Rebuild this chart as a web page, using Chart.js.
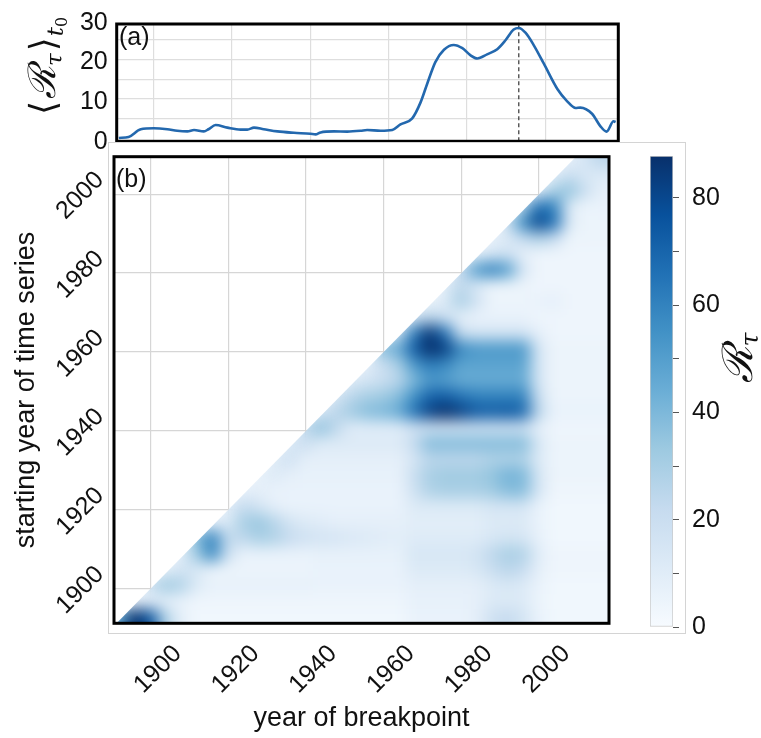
<!DOCTYPE html>
<html><head><meta charset="utf-8">
<script src="https://cdn.jsdelivr.net/npm/chart.js@4.4.1/dist/chart.umd.min.js"></script>
<style>
html,body{margin:0;padding:0;background:#fff;}
#wrap{position:relative;width:761px;height:738px;overflow:hidden;}
#wrap canvas{position:absolute;left:0;top:0;}
</style></head><body>
<div id="wrap">
<canvas id="cA" width="761" height="738"></canvas>
<canvas id="cB" width="761" height="738"></canvas>
<canvas id="cC" width="761" height="738"></canvas>
</div>
<script>
// ---------------- data ----------------
const meanYears = [1891.1,1893.6,1896.7,1900,1903.5,1906,1908.6,1910.3,1912.8,1914,1915.8,1918.8,1922.2,1923.9,1925.6,1928.1,1931.6,1935.8,1940,1941.3,1942.6,1946,1949.4,1952.8,1954.5,1957.9,1960.9,1963,1966,1968.1,1969.8,1971.9,1974.1,1976.6,1978.8,1980.9,1982.6,1985.1,1987.7,1989.8,1991.9,1993.2,1994.9,1997,1999.6,2003,2005.5,2007.7,2008.9,2011.9,2014,2015.6,2017.4,2017.9];
const meanValues = [0.2,0.45,2.4,2.65,2.4,2.0,1.85,2.2,1.85,2.4,3.45,2.8,2.3,2.3,2.8,2.4,1.85,1.5,1.25,1.1,1.6,1.85,1.8,2.0,2.2,2.0,2.2,3.6,5.15,9.1,13.8,19.3,22.4,23.6,22.8,21.0,20.2,21.25,22.55,24.8,27.5,27.9,26.7,23.6,18.9,12.6,9.5,7.75,7.85,6.3,3.2,1.8,4.4,4.2];
const peakYear = 1993.2;
const meanTicks = [0,5,10,15,20,25,30];
const gridYears = [1900,1920,1940,1960,1980,2000];
const colorbarTicks = [0,10,20,30,40,50,60,70,80];
const colorbarMax = 87.8;

// heatmap: columns = year of breakpoint, rows = starting year (bottom row first)
const breakpointYears = [1892,1896,1900,1904,1908,1912,1916,1920,1924,1928,1932,1936,1940,1944,1948,1952,1956,1960,1964,1968,1972,1976,1980,1984,1988,1992,1996,2000,2004,2008,2012,2016];
const startYears = [1893,1897,1901,1905,1909,1913,1917,1921,1925,1929,1933,1937,1941,1945,1949,1953,1957,1961,1965,1969,1973,1977,1981,1985,1989,1993,1997,2001,2005,2009];
// each row lists the values up to the last breakpoint column (right aligned)
const heatRows = [
 [50,88,75,28,8, 3,3,3,3,3,3,3, 3,3,3,3,3,3,3, 6,6,6,6,8, 18,22,16, 6, 3,3,3,3],
 [6,8,8,6, 4,4,4,4,4,4,4, 4,4,4,4,4,4,4, 7,7,7,7,8, 12,12,12, 5, 3,3,3,3],
 [20,32,28,12, 7,7,7,7,7,7,7, 6,6,6,6,6,6, 8,8,8,8,8, 12,14,12, 6, 3,3,3,3],
 [8,16,14, 5,5,5,5,5,5,5, 6,6,6,6,6,6, 12,12,12,12,14, 20,25,22, 8, 4,4,4,4],
 [10,32,58,20, 6,6,6,6,6, 7,7,7,7,7,7, 14,14,14,14,16, 24,30,28, 10, 4,4,4,4],
 [38,60,24,24,30,28,22,18,16,15,13,12,10,9, 11,11,11,11,11, 14,16,15, 7, 3,3,3,3],
 [8,12,30,34,26,16,12,10, 8,8,8,8,8, 9,9,9,9,9, 12,12,12, 6, 3,3,3,3],
 [10,22,16,8, 6,6,6,6,6,6,6,6, 12,12,12,12,12, 15,15,15, 6, 3,3,3,3],
 [8,8, 6,6,6,6,6,6,6,6,6, 18,28,30,30,30, 32,38,38, 15, 4,4,4,4],
 [8,12,8, 7,7,7,7,7,7,7, 20,30,32,32,32, 35,42,40, 15, 5,5,5,5],
 [12,18,8, 8,8,8,8,8,8, 15,25,25,25,25, 28,28,28, 12, 5,5,5,5],
 [14,20,12, 12,12,12,12,12, 22,38,38,38,38, 38,38,38, 14, 5,5,5,5],
 [24,36,24, 10,10,10,10, 18,18,18,18,18, 18,18,18, 8, 4,4,4,4],
 [15,25,32,38,40,45, 65,82,90,82,74, 72,74,70, 25, 6,6,6,6],
 [15,25,30,32,38, 55,70,72,65,60, 60,60,60, 20, 5,5,5,5],
 [12,15,20,25, 40,52,50,45,45, 45,45,45, 15, 5,5,5,5],
 [10,20,30, 52,62,58,48,48, 48,48,48, 15, 5,5,5,5],
 [38,45, 72,90,82,58,52, 52,52,52, 15, 5,5,5,5],
 [18, 60,85,64,20,15, 15,15,15, 8, 4,4,4,4],
 [15,25,18,8, 6,6,6,6, 4,4,4,4,4],
 [5,12,30,18, 5,5,5, 6,8, 4,4,4],
 [10,24,14, 5,5,5, 4,4,4,4,4],
 [22,50,60,50,15, 4,4,4,4,4],
 [8,14,18,8, 4,4,4,4,4],
 [8,12,22,28,22,5,5,5],
 [20,55,80,66,12,5,5],
 [28,66,60,12,5,6],
 [8,30,35,20,8],
 [10,20,14,12],
 [8,15,25]
];

// ---------------- helpers ----------------
const FONT = '"Liberation Sans", Arial, Helvetica, sans-serif';
Chart.defaults.font.family = FONT;
Chart.defaults.color = '#111';
const bluesStops = ['#f7fbff','#deebf7','#c6dbef','#9ecae1','#6baed6','#4292c6','#2171b5','#08519c','#08306b'];
const bluesRGB = bluesStops.map(h => [parseInt(h.slice(1,3),16), parseInt(h.slice(3,5),16), parseInt(h.slice(5,7),16)]);
function blues(t){
  t = Math.max(0, Math.min(1, t));
  const p = t * (bluesRGB.length - 1);
  const k = Math.min(Math.floor(p), bluesRGB.length - 2);
  const f = p - k, a = bluesRGB[k], b = bluesRGB[k+1];
  return 'rgb(' + a.map((v,i)=>Math.round(v + (b[i]-v)*f)).join(',') + ')';
}
function drawMath(ctx, cx, cy, pieces){
  ctx.save();
  ctx.translate(cx, cy); ctx.rotate(-Math.PI/2);
  ctx.textAlign = 'left'; ctx.textBaseline = 'alphabetic'; ctx.fillStyle = '#111';
  let total = 0;
  pieces.forEach(p => { ctx.font = p.f; p.w = ctx.measureText(p.t).width + (p.k || 0); total += p.w; });
  let x = -total/2;
  pieces.forEach(p => { ctx.font = p.f; ctx.fillText(p.t, x + (p.pre||0), p.dy); x += p.w; });
  ctx.restore();
}
function frameRect(ctx, a){
  ctx.save(); ctx.strokeStyle = '#000'; ctx.lineWidth = 3;
  ctx.strokeRect(a.left, a.top, a.right - a.left, a.bottom - a.top);
  ctx.restore();
}

// ---------------- chart (a) ----------------
const frameA = {
  id: 'frameA',
  afterDraw(chart){
    const ctx = chart.ctx;
    frameRect(ctx, chart.chartArea);
    ctx.save(); ctx.font = '25px ' + FONT; ctx.fillStyle = '#111'; ctx.textBaseline = 'middle'; ctx.textAlign = 'left';
    ctx.fillText('(a)', 119, 38); ctx.restore();
    drawMath(ctx, 43, 66, [
      {t:'\u27E8', f:'36px "DejaVu Sans"', dy:12, k:2},
      {t:'\u211B', f:'italic 38px "DejaVu Serif"', dy:12},
      {t:'\u03C4', f:'italic 23px "DejaVu Serif"', dy:19, k:2},
      {t:'\u27E9', f:'36px "DejaVu Sans"', dy:12, k:1},
      {t:'t', f:'italic 23px "DejaVu Serif"', dy:20},
      {t:'0', f:'16px "DejaVu Serif"', dy:24}
    ]);
  }
};
new Chart(document.getElementById('cA'), {
  type: 'line',
  data: { datasets: [
    { data: meanYears.map((x,i)=>({x, y: meanValues[i]})), borderColor:'#2368ae', borderWidth:2.6, pointRadius:0, cubicInterpolationMode:'monotone', fill:false },
    { data: [{x:peakYear, y:-0.64},{x:peakYear, y:28.9}], borderColor:'#333', borderWidth:1.2, borderDash:[4,3], pointRadius:0, fill:false }
  ]},
  options: {
    responsive:false, animation:false, events:[],
    layout:{ padding:{ left:0, top:15.7, right:761-618.3, bottom:0 } },
    plugins:{ legend:{display:false}, tooltip:{enabled:false} },
    scales:{
      x:{ type:'linear', min:1890.56, max:2018.6,
          afterBuildTicks: s => { s.ticks = gridYears.map(v=>({value:v})); },
          afterFit: s => { s.height = 738 - 141.3; },
          ticks:{ display:false, autoSkip:false },
          grid:{ color:'#dedede', lineWidth:1.2, drawTicks:false }, border:{display:false} },
      y:{ type:'linear', min:-0.64, max:28.9,
          afterBuildTicks: s => { s.ticks = meanTicks.map(v=>({value:v})); },
          afterFit: s => { s.width = 116.7; },
          ticks:{ autoSkip:false, font:{size:25}, color:'#111', padding:9, labelOffset:3, callback: v => (v % 10 === 0 ? String(v) : '') },
          grid:{ color: c => (c.tick && (c.tick.value > 28.9 || c.tick.value <= 0)) ? 'rgba(0,0,0,0)' : '#dedede', lineWidth:1.2, drawTicks:false },
          border:{display:false} }
    }
  },
  plugins:[frameA]
});

// ---------------- chart (b) heatmap ----------------
const heatPoints = [];
heatRows.forEach((row, j) => {
  const start = breakpointYears.length - row.length;
  row.forEach((v, k) => heatPoints.push({ x: breakpointYears[start + k], y: startYears[j], v }));
});
function cellRadius(chart){
  const xs = chart.scales.x, ys = chart.scales.y;
  if (!xs || !ys) return 8;
  const w = Math.abs(xs.getPixelForValue(4) - xs.getPixelForValue(0));
  const h = Math.abs(ys.getPixelForValue(4) - ys.getPixelForValue(0));
  return (Math.max(w, h) + 1.5) / Math.SQRT2;
}
const heatBlur = {
  id:'heatBlur',
  beforeDatasetsDraw(chart){
    const c = chart.canvas, ctx = chart.ctx;
    const bg = document.createElement('canvas'); bg.width = c.width; bg.height = c.height;
    bg.getContext('2d').drawImage(c, 0, 0);
    chart.$bg = bg;
    ctx.save(); ctx.setTransform(1,0,0,1,0,0); ctx.clearRect(0,0,c.width,c.height); ctx.restore();
  },
  afterDatasetsDraw(chart){
    const c = chart.canvas, ctx = chart.ctx, a = chart.chartArea;
    const fg = document.createElement('canvas'); fg.width = c.width; fg.height = c.height;
    const g = fg.getContext('2d');
    g.drawImage(c, 0, 0);
    const L = Math.round(a.left), R = Math.round(a.right), T = Math.round(a.top), B = Math.round(a.bottom);
    const W = R - L, H = B - T, pad = 40;
    g.drawImage(c, R-2, T, 1, H, R-1, T, pad, H);
    g.drawImage(c, L, B-2, W, 1, L, B-1, W, pad);
    g.drawImage(c, L+1, T, 1, H, L-pad, T, pad+1, H);
    g.drawImage(c, L, T+1, W, 1, L, T-pad, W, pad+1);
    g.drawImage(c, R-2, B-2, 1, 1, R-1, B-1, pad, pad);
    g.drawImage(c, R-2, T+1, 1, 1, R-1, T-pad, pad, pad+1);
    ctx.save(); ctx.setTransform(1,0,0,1,0,0);
    ctx.clearRect(0,0,c.width,c.height);
    ctx.drawImage(chart.$bg, 0, 0);
    const xs = chart.scales.x, ys = chart.scales.y;
    ctx.beginPath();
    ctx.moveTo(xs.getPixelForValue(ys.min), a.bottom);
    ctx.lineTo(xs.getPixelForValue(ys.max), a.top);
    ctx.lineTo(a.right, a.top); ctx.lineTo(a.right, a.bottom); ctx.closePath();
    ctx.clip();
    ctx.filter = 'blur(7.5px)';
    ctx.drawImage(fg, 0, 0);
    ctx.restore();
  }
};
const frameB = {
  id:'frameB',
  afterDraw(chart){
    const ctx = chart.ctx;
    ctx.save(); ctx.strokeStyle = '#d4d4d4'; ctx.lineWidth = 1;
    ctx.strokeRect(108.5, 142.5, 577, 491); ctx.restore();
    frameRect(ctx, chart.chartArea);
    ctx.save(); ctx.font = '25px ' + FONT; ctx.fillStyle = '#111'; ctx.textBaseline = 'middle'; ctx.textAlign = 'left';
    ctx.fillText('(b)', 116, 180); ctx.restore();
  }
};
new Chart(document.getElementById('cB'), {
  type:'scatter',
  data:{ datasets:[{
    data: heatPoints, clip: 0,
    pointStyle:'rect', pointBorderWidth:0, pointHoverRadius: c => cellRadius(c.chart),
    pointRadius: c => cellRadius(c.chart),
    pointBackgroundColor: c => blues(c.raw ? c.raw.v / colorbarMax : 0),
    pointBorderColor:'rgba(0,0,0,0)'
  }]},
  options:{
    responsive:false, animation:false, events:[],
    layout:{ padding:{ left:0, top:156.7, right:761-609, bottom:0 } },
    plugins:{ legend:{display:false}, tooltip:{enabled:false} },
    scales:{
      x:{ type:'linear', min:1890.55, max:2018.0,
          afterBuildTicks: s => { s.ticks = gridYears.map(v=>({value:v})); },
          afterFit: s => { s.height = 738 - 623.3; },
          grid:{ color:'#d6d6d6', lineWidth:1.2, drawTicks:false }, border:{display:false},
          ticks:{ autoSkip:false, font:{size:25}, color:'#111', minRotation:45, maxRotation:45, labelOffset:27, padding:16, callback: v => String(v) },
          title:{ display:true, text:'year of breakpoint', font:{size:27}, color:'#111', padding:{top:0, bottom:3} } },
      y:{ type:'linear', min:1891.2, max:2009.5,
          afterBuildTicks: s => { s.ticks = gridYears.map(v=>({value:v})); },
          afterFit: s => { s.width = 114; },
          grid:{ color:'#d6d6d6', lineWidth:1.2, drawTicks:false }, border:{display:false},
          ticks:{ autoSkip:false, font:{size:25}, color:'#111', minRotation:45, maxRotation:45, labelOffset:-18, padding:14, callback: v => String(v) },
          title:{ display:true, text:'starting year of time series', font:{size:27}, color:'#111', padding:{top:10, bottom:0} } }
    }
  },
  plugins:[heatBlur, frameB]
});

// ---------------- colorbar ----------------
const cbTitle = {
  id:'cbTitle',
  afterDraw(chart){
    drawMath(chart.ctx, 740, 358, [
      {t:'\u211B', f:'italic 42px "DejaVu Serif"', dy:12},
      {t:'\u03C4', f:'italic 25px "DejaVu Serif"', dy:18}
    ]);
  }
};
new Chart(document.getElementById('cC'), {
  type:'bar',
  data:{ labels:['R'], datasets:[{
    data:[[0, colorbarMax]],
    backgroundColor: c => {
      const {ctx, chartArea} = c.chart;
      if (!chartArea) return bluesStops[4];
      const g = ctx.createLinearGradient(0, chartArea.bottom, 0, chartArea.top);
      bluesStops.forEach((col, k) => g.addColorStop(k / (bluesStops.length - 1), col));
      return g;
    },
    borderColor:'#c8c8c8', borderWidth:1, borderSkipped:false,
    categoryPercentage:1, barPercentage:1
  }]},
  options:{
    responsive:false, animation:false, events:[],
    layout:{ padding:{ left:650, top:156, right:0, bottom:111 } },
    plugins:{ legend:{display:false}, tooltip:{enabled:false} },
    scales:{
      x:{ display:false },
      y:{ position:'right', min:0, max:colorbarMax,
          afterBuildTicks: s => { s.ticks = colorbarTicks.map(v=>({value:v})); },
          afterFit: s => { s.width = 88; },
          ticks:{ autoSkip:false, font:{size:25}, color:'#111', padding:13, callback: v => (v % 20 === 0 ? String(v) : '') },
          grid:{ drawOnChartArea:false, drawTicks:true, tickLength:6, tickColor:'#555', tickWidth:1 },
          border:{ display:false } }
    }
  },
  plugins:[cbTitle]
});
</script>
</body></html>
